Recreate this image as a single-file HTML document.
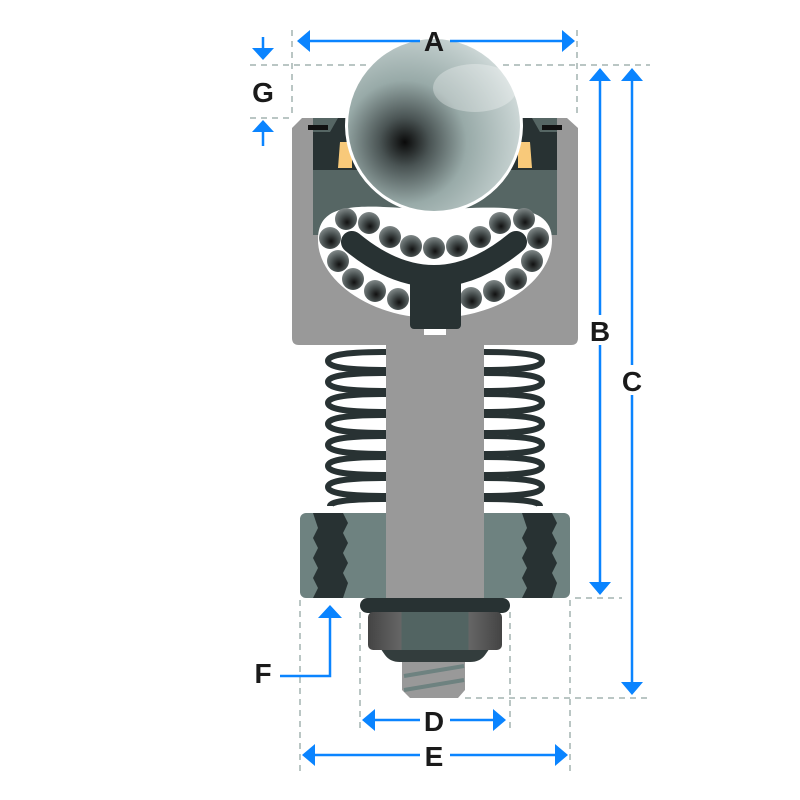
<!DOCTYPE html>
<html><head><style>body{margin:0;background:#fff}svg{display:block}text{font-family:"Liberation Sans",sans-serif;font-weight:bold;font-size:28px;fill:#1a1a1a;text-anchor:middle}</style></head>
<body>
<svg width="800" height="800" viewBox="0 0 800 800" xmlns="http://www.w3.org/2000/svg">
<defs>
<radialGradient id="ball" cx="0.33" cy="0.6" r="0.8">
<stop offset="0" stop-color="#0a0a0a"/><stop offset="0.18" stop-color="#4a5454"/><stop offset="0.45" stop-color="#98aaa8"/><stop offset="0.8" stop-color="#c4d0cf"/><stop offset="1" stop-color="#e4eaea"/></radialGradient>
<radialGradient id="sb" cx="0.55" cy="0.65" r="0.7">
<stop offset="0" stop-color="#111"/><stop offset="0.5" stop-color="#4a5252"/><stop offset="1" stop-color="#8a9292"/></radialGradient>
<linearGradient id="hex" x1="0" x2="1"><stop offset="0" stop-color="#444"/><stop offset="0.25" stop-color="#666"/><stop offset="0.25" stop-color="#526462"/><stop offset="0.75" stop-color="#526462"/><stop offset="0.75" stop-color="#666"/><stop offset="1" stop-color="#444"/></linearGradient>
</defs>
<g stroke="#a3b3b1" stroke-width="1.5" stroke-dasharray="6,5" fill="none">
<path d="M250 65H650M250 118H290M292 30V118M577 30V118M575 598H622M465 698H650M300 600V775M570 600V775M360 612V728M510 612V728"/>
</g>
<path d="M302 118H567L578 128V338Q578 345 571 345H299Q292 345 292 338V128Z" fill="#999"/>
<rect x="313" y="118" width="244" height="117" fill="#566664"/>
<path d="M313 132H330L338 118H532L540 132H557V170H313Z" fill="#283233"/>
<rect x="308" y="125" width="20" height="5" fill="#111"/><rect x="542" y="125" width="20" height="5" fill="#111"/>
<path d="M340 142H352V168H338Z" fill="#f8c97a"/><path d="M518 142H530L532 168H518Z" fill="#f8c97a"/>
<path d="M318 240C318 200 360 205 434 210C510 205 552 205 552 240C552 280 500 318 434 318C370 318 318 280 318 240Z" fill="#fff"/>
<circle cx="434" cy="125" r="89" fill="#fff"/>
<circle cx="434" cy="125" r="86" fill="url(#ball)"/>
<ellipse cx="475" cy="88" rx="42" ry="24" fill="#fff" opacity="0.3"/>
<g fill="url(#sb)">
<circle cx="346" cy="219" r="11"/><circle cx="369" cy="223" r="11"/><circle cx="390" cy="237" r="11"/><circle cx="411" cy="246" r="11"/><circle cx="434" cy="248" r="11"/><circle cx="457" cy="246" r="11"/><circle cx="480" cy="237" r="11"/><circle cx="500" cy="223" r="11"/><circle cx="524" cy="219" r="11"/><circle cx="330" cy="238" r="11"/><circle cx="538" cy="238" r="11"/><circle cx="338" cy="261" r="11"/><circle cx="353" cy="279" r="11"/><circle cx="375" cy="291" r="11"/><circle cx="398" cy="299" r="11"/><circle cx="471" cy="298" r="11"/><circle cx="494" cy="291" r="11"/><circle cx="516" cy="279" r="11"/><circle cx="532" cy="261" r="11"/>
</g>
<path d="M352 242Q434 310 516 242" stroke="#283233" stroke-width="22" stroke-linecap="round" fill="none"/>
<rect x="410" y="268" width="51" height="61" rx="4" fill="#283233"/>
<rect x="424" y="329" width="22" height="6" fill="#fff"/>
<g fill="none" stroke="#283233" stroke-width="6">
<path d="M386 352C340 352 328 356 328 361C328 366 340 370 386 370M386 373C340 373 328 377 328 382C328 387 340 391 386 391M386 394C340 394 328 398 328 403C328 408 340 412 386 412M386 415C340 415 328 419 328 424C328 429 340 433 386 433M386 436C340 436 328 440 328 445C328 450 340 454 386 454M386 457C340 457 328 461 328 466C328 471 340 475 386 475M386 478C340 478 328 482 328 487C328 492 340 496 386 496M386 499C345 499 330 502 330 506"/>
<path d="M484 352C530 352 542 356 542 361C542 366 530 370 484 370M484 373C530 373 542 377 542 382C542 387 530 391 484 391M484 394C530 394 542 398 542 403C542 408 530 412 484 412M484 415C530 415 542 419 542 424C542 429 530 433 484 433M484 436C530 436 542 440 542 445C542 450 530 454 484 454M484 457C530 457 542 461 542 466C542 471 530 475 484 475M484 478C530 478 542 482 542 487C542 492 530 496 484 496M484 499C525 499 540 502 540 506"/>
</g>
<rect x="300" y="513" width="270" height="85" rx="6" fill="#6e8280"/>
<path d="M313 513H343L348 523L343 533L348 543L343 553L348 563L343 573L348 583L343 598H313L318 588L313 578L318 568L313 558L318 548L313 538L318 528Z" fill="#283233"/>
<path d="M522 513H552L557 523L552 533L557 543L552 553L557 563L552 573L557 583L552 598H522L527 588L522 578L527 568L522 558L527 548L522 538L527 528Z" fill="#283233"/>
<rect x="386" y="345" width="98" height="253" fill="#999"/>
<rect x="360" y="598" width="150" height="15" rx="7.5" fill="#283233"/>
<path d="M378 645H492L485 655Q480 662 470 662H400Q390 662 385 655Z" fill="#333d3d"/>
<rect x="368" y="612" width="134" height="38" rx="5" fill="url(#hex)"/>
<path d="M402 662H465V690L458 698H410L402 690Z" fill="#999"/>
<path d="M404 676L464 666M404 690L464 680" stroke="#6e8280" stroke-width="4"/>
<g stroke="#0a84ff" stroke-width="2.5" fill="#0a84ff">
<path d="M308 41H420M450 41H563M600 80V315M600 345V583M632 80V365M632 395V683M375 720H420M450 720H493M315 755H420M450 755H555M263 37V50M263 130V146M330 617V676H280" fill="none"/>
<path stroke="none" d="M297 41L310 30V52ZM575 41L562 30V52ZM600 68L589 81H611ZM600 595L589 582H611ZM632 68L621 81H643ZM632 695L621 682H643ZM362 720L375 709V731ZM506 720L493 709V731ZM302 755L315 744V766ZM568 755L555 744V766ZM263 60L252 48H274ZM263 120L252 132H274ZM330 605L318 618H342Z"/>
</g>
<text x="434" y="51">A</text><text x="600" y="341">B</text><text x="632" y="391">C</text><text x="434" y="731">D</text><text x="434" y="766">E</text><text x="263" y="683">F</text><text x="263" y="102">G</text>
</svg>
</body></html>
